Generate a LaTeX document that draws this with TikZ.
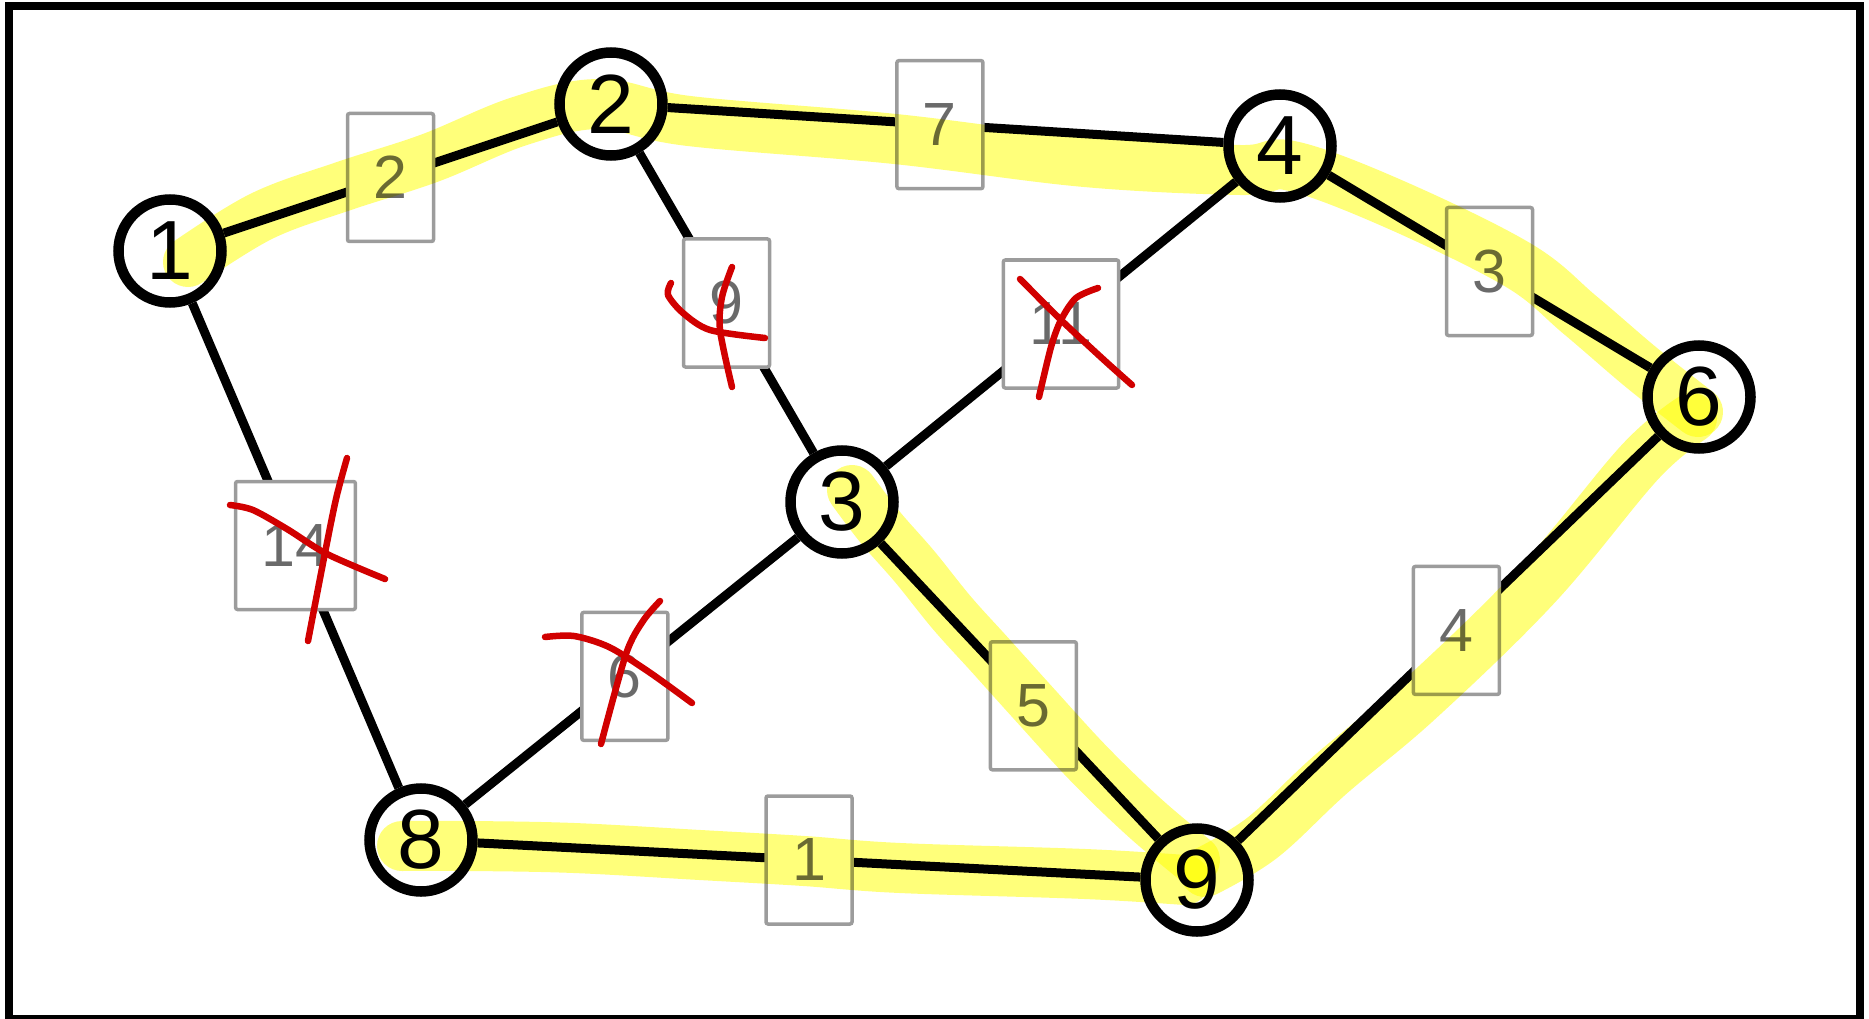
\documentclass[tikz,border=0pt]{standalone}
\usepackage{fontspec}
\setmainfont{Liberation Sans}
\definecolor{boxgray}{HTML}{9C9C9C}
\definecolor{labelgray}{HTML}{6A6A6A}
\definecolor{hiyellow}{HTML}{FFFF7A}
\definecolor{penred}{HTML}{D10000}
\begin{document}
\begin{tikzpicture}[x=1pt,y=-1pt,
  vnode/.style={circle, draw=black, line width=10.5pt, fill=white, minimum size=103pt,
    inner sep=0pt, font=\fontsize{84}{84}\selectfont},
  wbox/.style={draw=boxgray, line width=3.5pt, fill=white, rounded corners=2pt,
    minimum width=86pt, minimum height=128pt, inner xsep=26pt, inner ysep=0pt,
    text=labelgray, font=\fontsize{61}{61}\selectfont},
  edgeline/.style={line width=9pt, draw=black},
  hilite/.style={line width=50pt, draw=hiyellow, line cap=round, line join=round,
    blend mode=multiply},
  redmark/.style={line width=6.5pt, draw=penred, line cap=round, line join=round}
]
\useasboundingbox (0,0) rectangle (1869,1019);
\begin{scope}
  \clip (0,0) rectangle (1869,1019);
  \draw[line width=8pt] (9,6) rectangle (1860,1019);
\end{scope}

% vertices
\node[vnode] (n1) at (170,251) {1};
\node[vnode] (n2) at (611,104) {2};
\node[vnode] (n3) at (842,502) {3};
\node[vnode] (n4) at (1280,146) {4};
\node[vnode] (n6) at (1699,397) {6};
\node[vnode] (n8) at (421,840) {8};
\node[vnode] (n9) at (1197,880) {9};

% weighted edges
\draw[edgeline] (n1) -- node[wbox] (w12) {2} (n2);
\draw[edgeline] (n2) -- node[wbox] (w23) {9} (n3);
\draw[edgeline] (n1) -- node[wbox] (w18) {14} (n8);
\draw[edgeline] (n8) -- node[wbox, pos=0.48] (w83) {6} (n3);
\draw[edgeline] (n8) -- node[wbox] (w89) {1} (n9);
\draw[edgeline] (n2) -- node[wbox, pos=0.49] (w24) {7} (n4);
\draw[edgeline] (n3) -- node[wbox] (w34) {11} (n4);
\draw[edgeline] (n4) -- node[wbox] (w46) {3} (n6);
\draw[edgeline] (n3) -- node[wbox, pos=0.55] (w39) {5} (n9);
\draw[edgeline] (n9) -- node[wbox, pos=0.52] (w96) {4} (n6);

% highlighter strokes along the chosen edges
\draw[hilite] plot[smooth, tension=0.6] coordinates {(188,262) (262,216) (344,186) (430,158)
  (520,121) (600,104) (689,121) (895,139) (1085,162) (1240,170) (1292,166) (1394,204)
  (1518,265) (1580,315) (1642,368) (1698,412)};
\draw[hilite] plot[smooth, tension=0.6] coordinates {(1692,418) (1640,462) (1537,585)
  (1419,700) (1330,775) (1262,838) (1205,872)};
\draw[hilite] plot[smooth, tension=0.6] coordinates {(852,490) (880,527) (915,567)
  (952,613) (990,655) (1035,705) (1090,765) (1145,818) (1195,860)};
\draw[hilite] plot[smooth, tension=0.6] coordinates {(402,846) (470,846) (574,848)
  (700,855) (804,861) (900,868) (1085,874) (1185,880)};

% pen strokes crossing out rejected edges
\draw[redmark] plot[smooth] coordinates {(671,283) (668,295) (683,313) (710,330) (765,338)};
\draw[redmark] plot[smooth] coordinates {(732,267) (722,297) (720,330) (732,387)};
\draw[redmark] plot[smooth] coordinates {(1020,279) (1061,320) (1104,360) (1132,385)};
\draw[redmark] plot[smooth] coordinates {(1098,288) (1076,298) (1061,320) (1051,347) (1039,397)};
\draw[redmark] plot[smooth] coordinates {(230,505) (253,510) (287,529) (327,554) (385,579)};
\draw[redmark] plot[smooth] coordinates {(347,458) (336,499) (324,558) (308,641)};
\draw[redmark] plot[smooth] coordinates {(545,637) (574,636) (609,647) (649,672) (692,703)};
\draw[redmark] plot[smooth] coordinates {(660,601) (643,621) (626,654) (601,744)};
\end{tikzpicture}
\end{document}
